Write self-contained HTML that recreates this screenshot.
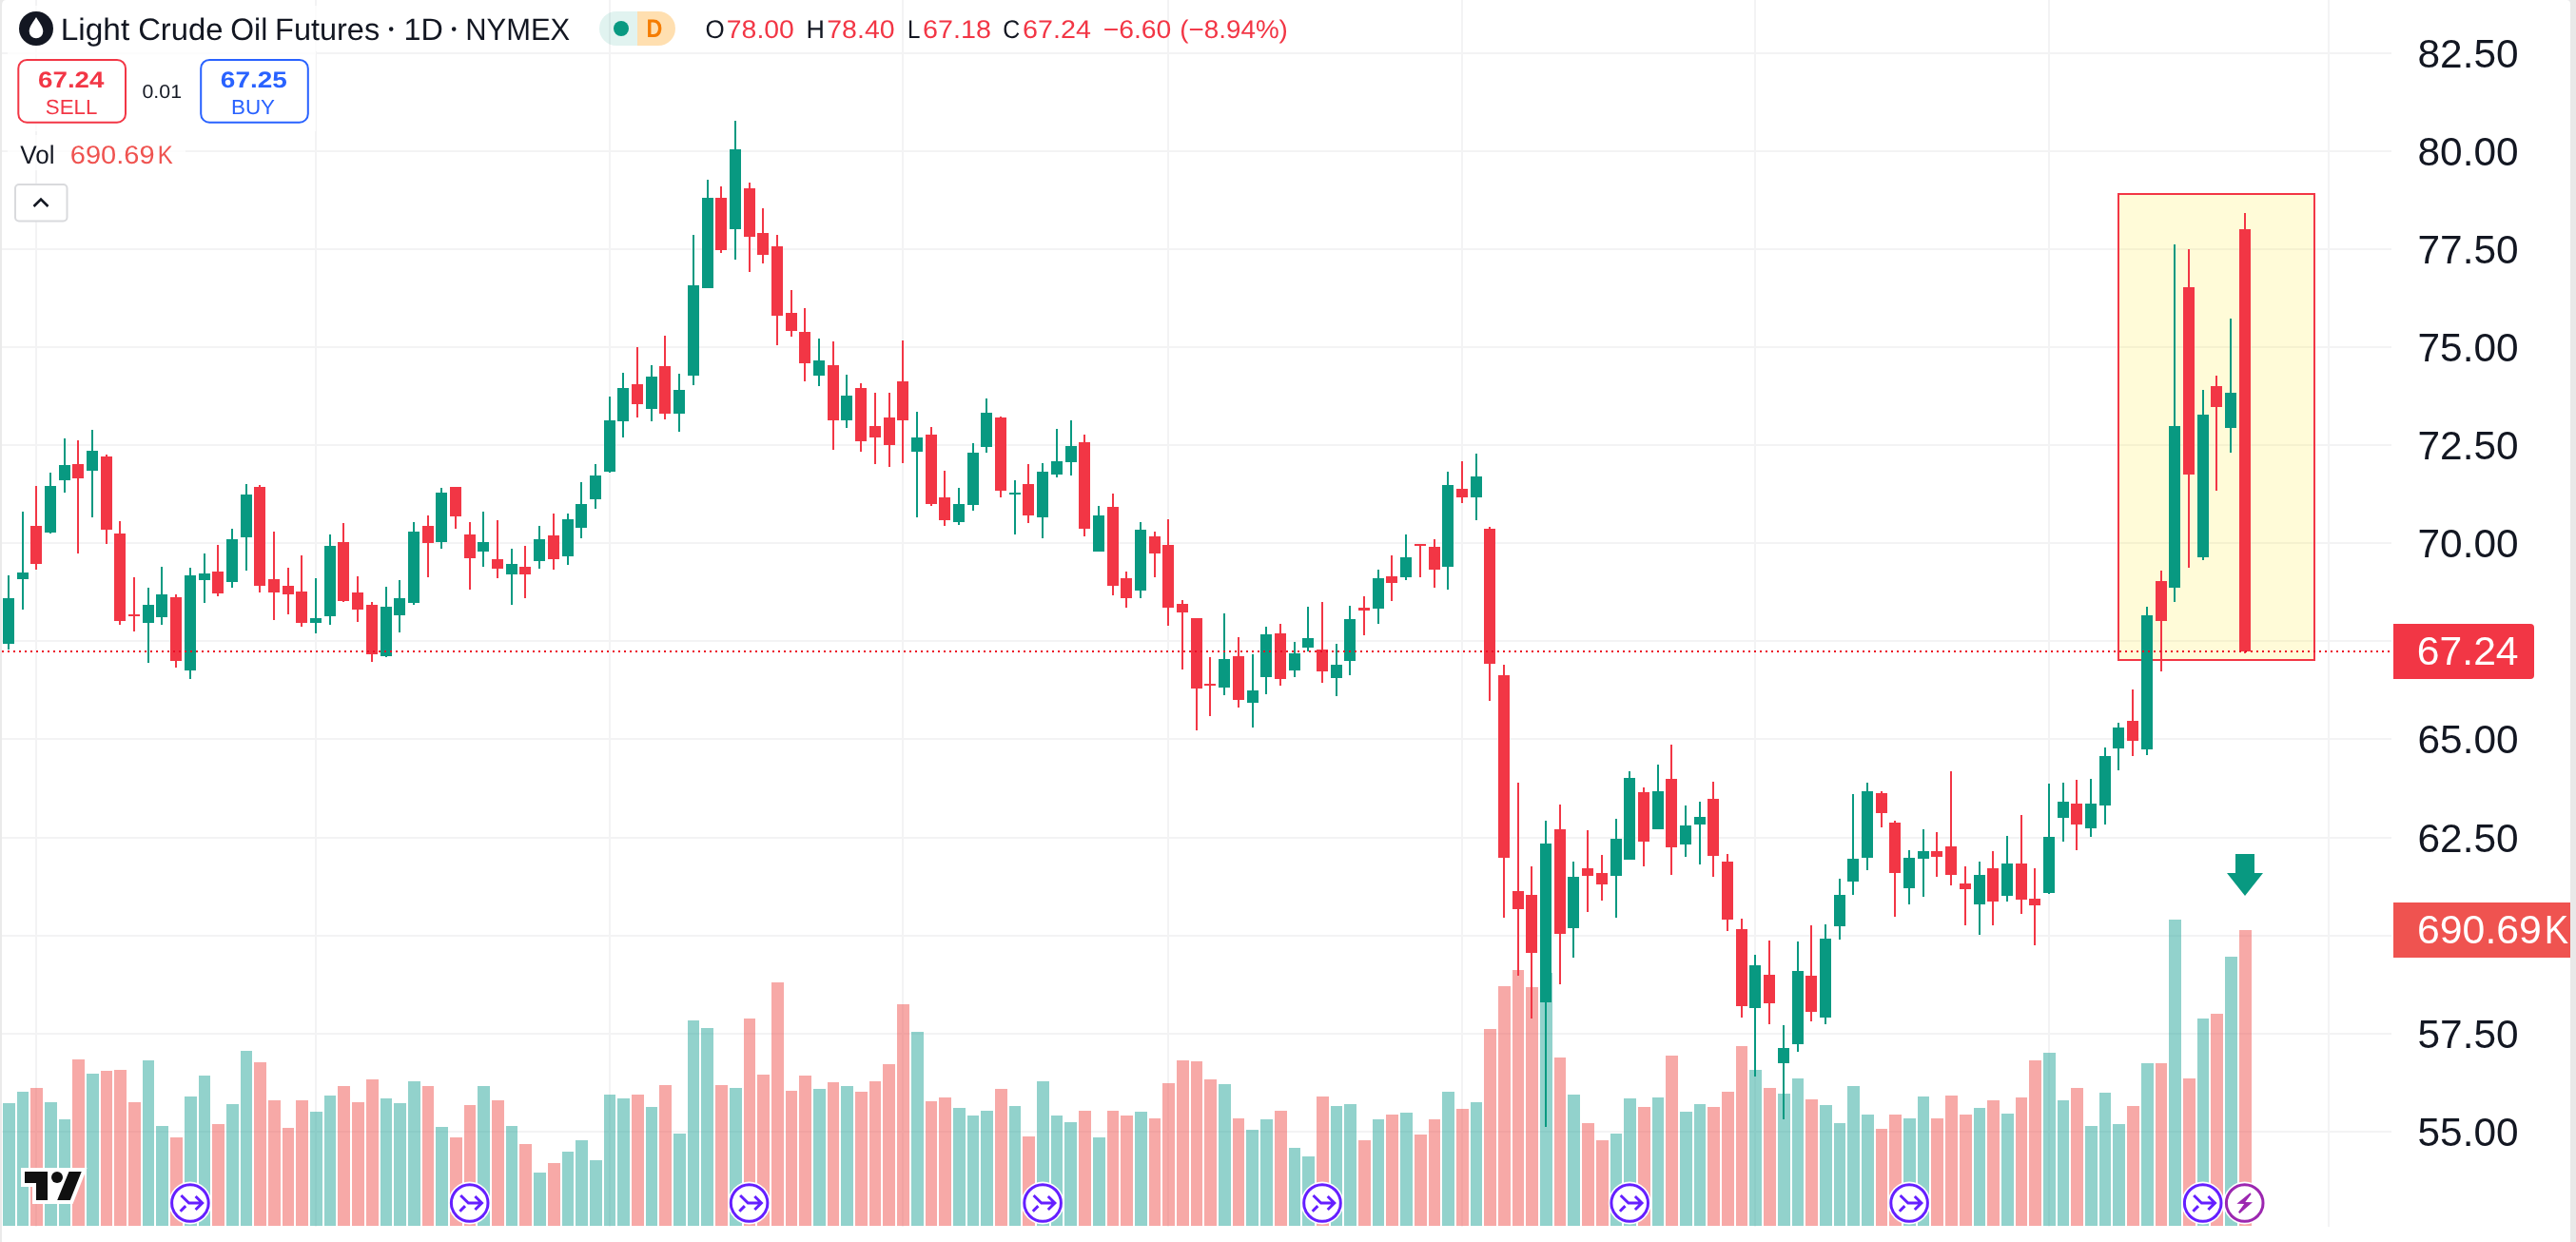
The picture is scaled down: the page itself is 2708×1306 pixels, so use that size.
<!DOCTYPE html><html><head><meta charset="utf-8"><title>CL1! chart</title><style>html,body{margin:0;padding:0;background:#fff;}body{width:2708px;height:1306px;overflow:hidden;font-family:"Liberation Sans",sans-serif;}svg{display:block;will-change:transform;opacity:0.999}</style></head><body><svg width="2708" height="1306" viewBox="0 0 2708 1306" shape-rendering="crispEdges"><rect x="0" y="0" width="2708" height="1306" fill="#FFFFFF"/><g fill="#F3F3F4"><rect x="2" y="55" width="2512" height="2"/><rect x="2" y="158" width="2512" height="2"/><rect x="2" y="261" width="2512" height="2"/><rect x="2" y="364" width="2512" height="2"/><rect x="2" y="467" width="2512" height="2"/><rect x="2" y="570" width="2512" height="2"/><rect x="2" y="673" width="2512" height="2"/><rect x="2" y="776" width="2512" height="2"/><rect x="2" y="880" width="2512" height="2"/><rect x="2" y="983" width="2512" height="2"/><rect x="2" y="1086" width="2512" height="2"/><rect x="2" y="1189" width="2512" height="2"/><rect x="37" y="0" width="2" height="1290"/><rect x="331" y="0" width="2" height="1290"/><rect x="640" y="0" width="2" height="1290"/><rect x="948" y="0" width="2" height="1290"/><rect x="1227" y="0" width="2" height="1290"/><rect x="1536" y="0" width="2" height="1290"/><rect x="1844" y="0" width="2" height="1290"/><rect x="2153" y="0" width="2" height="1290"/><rect x="2447" y="0" width="2" height="1290"/></g><g fill="rgba(38,166,154,0.5)"><rect x="3" y="1160" width="13" height="129"/><rect x="18" y="1148" width="12" height="141"/><rect x="47" y="1159" width="13" height="130"/><rect x="62" y="1177" width="12" height="112"/><rect x="91" y="1129" width="13" height="160"/><rect x="150" y="1115" width="12" height="174"/><rect x="164" y="1184" width="13" height="105"/><rect x="194" y="1153" width="13" height="136"/><rect x="209" y="1131" width="12" height="158"/><rect x="238" y="1161" width="13" height="128"/><rect x="253" y="1105" width="12" height="184"/><rect x="326" y="1169" width="13" height="120"/><rect x="341" y="1152" width="12" height="137"/><rect x="400" y="1155" width="12" height="134"/><rect x="414" y="1160" width="13" height="129"/><rect x="429" y="1137" width="13" height="152"/><rect x="458" y="1185" width="13" height="104"/><rect x="502" y="1142" width="13" height="147"/><rect x="532" y="1184" width="12" height="105"/><rect x="561" y="1233" width="13" height="56"/><rect x="591" y="1211" width="12" height="78"/><rect x="605" y="1199" width="13" height="90"/><rect x="620" y="1220" width="13" height="69"/><rect x="635" y="1151" width="12" height="138"/><rect x="649" y="1155" width="13" height="134"/><rect x="679" y="1164" width="12" height="125"/><rect x="708" y="1192" width="13" height="97"/><rect x="723" y="1073" width="12" height="216"/><rect x="737" y="1081" width="13" height="208"/><rect x="767" y="1144" width="13" height="145"/><rect x="855" y="1145" width="13" height="144"/><rect x="884" y="1142" width="13" height="147"/><rect x="958" y="1085" width="13" height="204"/><rect x="1002" y="1165" width="13" height="124"/><rect x="1017" y="1173" width="12" height="116"/><rect x="1031" y="1168" width="13" height="121"/><rect x="1061" y="1163" width="12" height="126"/><rect x="1090" y="1137" width="13" height="152"/><rect x="1105" y="1173" width="12" height="116"/><rect x="1119" y="1180" width="13" height="109"/><rect x="1149" y="1196" width="13" height="93"/><rect x="1193" y="1169" width="13" height="120"/><rect x="1281" y="1140" width="13" height="149"/><rect x="1310" y="1188" width="13" height="101"/><rect x="1325" y="1177" width="13" height="112"/><rect x="1355" y="1207" width="12" height="82"/><rect x="1369" y="1216" width="13" height="73"/><rect x="1399" y="1163" width="12" height="126"/><rect x="1413" y="1161" width="13" height="128"/><rect x="1443" y="1177" width="12" height="112"/><rect x="1472" y="1170" width="13" height="119"/><rect x="1516" y="1148" width="13" height="141"/><rect x="1546" y="1159" width="12" height="130"/><rect x="1619" y="1023" width="13" height="266"/><rect x="1648" y="1151" width="13" height="138"/><rect x="1693" y="1192" width="12" height="97"/><rect x="1707" y="1155" width="13" height="134"/><rect x="1737" y="1154" width="12" height="135"/><rect x="1766" y="1169" width="13" height="120"/><rect x="1781" y="1161" width="12" height="128"/><rect x="1839" y="1125" width="13" height="164"/><rect x="1869" y="1150" width="13" height="139"/><rect x="1884" y="1134" width="12" height="155"/><rect x="1913" y="1162" width="13" height="127"/><rect x="1928" y="1181" width="12" height="108"/><rect x="1942" y="1142" width="13" height="147"/><rect x="1957" y="1172" width="13" height="117"/><rect x="2001" y="1176" width="13" height="113"/><rect x="2016" y="1153" width="12" height="136"/><rect x="2075" y="1165" width="12" height="124"/><rect x="2104" y="1171" width="13" height="118"/><rect x="2148" y="1107" width="13" height="182"/><rect x="2163" y="1157" width="12" height="132"/><rect x="2192" y="1184" width="13" height="105"/><rect x="2207" y="1149" width="12" height="140"/><rect x="2221" y="1182" width="13" height="107"/><rect x="2251" y="1118" width="13" height="171"/><rect x="2280" y="967" width="13" height="322"/><rect x="2310" y="1071" width="12" height="218"/><rect x="2339" y="1006" width="13" height="283"/></g><g fill="rgba(239,83,80,0.5)"><rect x="32" y="1144" width="13" height="145"/><rect x="76" y="1114" width="13" height="175"/><rect x="106" y="1126" width="12" height="163"/><rect x="120" y="1125" width="13" height="164"/><rect x="135" y="1159" width="13" height="130"/><rect x="179" y="1196" width="13" height="93"/><rect x="223" y="1182" width="13" height="107"/><rect x="267" y="1117" width="13" height="172"/><rect x="282" y="1157" width="13" height="132"/><rect x="297" y="1186" width="12" height="103"/><rect x="311" y="1157" width="13" height="132"/><rect x="355" y="1142" width="13" height="147"/><rect x="370" y="1159" width="13" height="130"/><rect x="385" y="1135" width="13" height="154"/><rect x="444" y="1142" width="12" height="147"/><rect x="473" y="1196" width="13" height="93"/><rect x="488" y="1162" width="12" height="127"/><rect x="517" y="1157" width="13" height="132"/><rect x="546" y="1203" width="13" height="86"/><rect x="576" y="1223" width="13" height="66"/><rect x="664" y="1151" width="13" height="138"/><rect x="693" y="1141" width="13" height="148"/><rect x="752" y="1141" width="13" height="148"/><rect x="782" y="1071" width="12" height="218"/><rect x="796" y="1130" width="13" height="159"/><rect x="811" y="1033" width="13" height="256"/><rect x="826" y="1147" width="12" height="142"/><rect x="840" y="1131" width="13" height="158"/><rect x="870" y="1138" width="12" height="151"/><rect x="899" y="1148" width="13" height="141"/><rect x="914" y="1137" width="12" height="152"/><rect x="928" y="1119" width="13" height="170"/><rect x="943" y="1056" width="13" height="233"/><rect x="973" y="1158" width="12" height="131"/><rect x="987" y="1154" width="13" height="135"/><rect x="1046" y="1145" width="13" height="144"/><rect x="1075" y="1195" width="13" height="94"/><rect x="1134" y="1168" width="13" height="121"/><rect x="1164" y="1168" width="12" height="121"/><rect x="1178" y="1173" width="13" height="116"/><rect x="1208" y="1176" width="12" height="113"/><rect x="1222" y="1139" width="13" height="150"/><rect x="1237" y="1115" width="13" height="174"/><rect x="1252" y="1116" width="12" height="173"/><rect x="1266" y="1135" width="13" height="154"/><rect x="1296" y="1176" width="12" height="113"/><rect x="1340" y="1168" width="13" height="121"/><rect x="1384" y="1153" width="13" height="136"/><rect x="1428" y="1199" width="13" height="90"/><rect x="1457" y="1172" width="13" height="117"/><rect x="1487" y="1193" width="13" height="96"/><rect x="1502" y="1177" width="12" height="112"/><rect x="1531" y="1166" width="13" height="123"/><rect x="1560" y="1082" width="13" height="207"/><rect x="1575" y="1037" width="13" height="252"/><rect x="1590" y="1020" width="12" height="269"/><rect x="1604" y="1038" width="13" height="251"/><rect x="1634" y="1112" width="12" height="177"/><rect x="1663" y="1181" width="13" height="108"/><rect x="1678" y="1199" width="13" height="90"/><rect x="1722" y="1164" width="13" height="125"/><rect x="1751" y="1110" width="13" height="179"/><rect x="1795" y="1164" width="13" height="125"/><rect x="1810" y="1148" width="13" height="141"/><rect x="1825" y="1100" width="12" height="189"/><rect x="1854" y="1144" width="13" height="145"/><rect x="1898" y="1156" width="13" height="133"/><rect x="1972" y="1187" width="12" height="102"/><rect x="1986" y="1172" width="13" height="117"/><rect x="2030" y="1176" width="13" height="113"/><rect x="2045" y="1152" width="13" height="137"/><rect x="2060" y="1172" width="13" height="117"/><rect x="2089" y="1157" width="13" height="132"/><rect x="2119" y="1154" width="12" height="135"/><rect x="2133" y="1115" width="13" height="174"/><rect x="2177" y="1144" width="13" height="145"/><rect x="2236" y="1163" width="13" height="126"/><rect x="2266" y="1118" width="12" height="171"/><rect x="2295" y="1134" width="13" height="155"/><rect x="2324" y="1066" width="13" height="223"/><rect x="2354" y="978" width="13" height="311"/></g><rect x="2227" y="204" width="206" height="490" fill="rgba(255,235,59,0.2)" stroke="#F23645" stroke-width="2"/><g fill="#089981"><rect x="8" y="605" width="2" height="78"/><rect x="3" y="629" width="12" height="48"/><rect x="23" y="538" width="2" height="103"/><rect x="18" y="602" width="12" height="7"/><rect x="52" y="497" width="2" height="64"/><rect x="47" y="511" width="12" height="49"/><rect x="67" y="461" width="2" height="57"/><rect x="62" y="489" width="12" height="16"/><rect x="96" y="452" width="2" height="92"/><rect x="91" y="474" width="12" height="21"/><rect x="155" y="618" width="2" height="79"/><rect x="150" y="636" width="12" height="19"/><rect x="169" y="596" width="2" height="61"/><rect x="164" y="625" width="12" height="24"/><rect x="199" y="597" width="2" height="117"/><rect x="194" y="605" width="12" height="100"/><rect x="214" y="582" width="2" height="52"/><rect x="209" y="603" width="12" height="7"/><rect x="243" y="556" width="2" height="62"/><rect x="238" y="567" width="12" height="45"/><rect x="258" y="509" width="2" height="91"/><rect x="253" y="520" width="12" height="45"/><rect x="331" y="608" width="2" height="58"/><rect x="326" y="650" width="12" height="5"/><rect x="346" y="562" width="2" height="95"/><rect x="341" y="574" width="12" height="74"/><rect x="405" y="617" width="2" height="74"/><rect x="400" y="638" width="12" height="52"/><rect x="419" y="610" width="2" height="55"/><rect x="414" y="629" width="12" height="18"/><rect x="434" y="549" width="2" height="87"/><rect x="429" y="559" width="12" height="75"/><rect x="463" y="513" width="2" height="64"/><rect x="458" y="518" width="12" height="52"/><rect x="507" y="538" width="2" height="58"/><rect x="502" y="570" width="12" height="10"/><rect x="537" y="577" width="2" height="59"/><rect x="532" y="593" width="12" height="11"/><rect x="566" y="553" width="2" height="45"/><rect x="561" y="567" width="12" height="23"/><rect x="596" y="540" width="2" height="54"/><rect x="591" y="546" width="12" height="39"/><rect x="610" y="507" width="2" height="59"/><rect x="605" y="530" width="12" height="25"/><rect x="625" y="488" width="2" height="47"/><rect x="620" y="500" width="12" height="25"/><rect x="640" y="417" width="2" height="80"/><rect x="635" y="442" width="12" height="54"/><rect x="654" y="392" width="2" height="68"/><rect x="649" y="408" width="12" height="35"/><rect x="684" y="384" width="2" height="59"/><rect x="679" y="396" width="12" height="34"/><rect x="713" y="393" width="2" height="61"/><rect x="708" y="410" width="12" height="25"/><rect x="728" y="247" width="2" height="158"/><rect x="723" y="300" width="12" height="95"/><rect x="743" y="189" width="2" height="114"/><rect x="738" y="208" width="12" height="95"/><rect x="772" y="127" width="2" height="146"/><rect x="767" y="157" width="12" height="84"/><rect x="860" y="356" width="2" height="50"/><rect x="855" y="379" width="12" height="16"/><rect x="889" y="394" width="2" height="56"/><rect x="884" y="416" width="12" height="26"/><rect x="963" y="433" width="2" height="111"/><rect x="958" y="460" width="12" height="15"/><rect x="1007" y="513" width="2" height="39"/><rect x="1002" y="530" width="12" height="19"/><rect x="1022" y="466" width="2" height="71"/><rect x="1017" y="476" width="12" height="55"/><rect x="1036" y="419" width="2" height="57"/><rect x="1031" y="434" width="12" height="36"/><rect x="1066" y="505" width="2" height="57"/><rect x="1061" y="518" width="12" height="2"/><rect x="1095" y="487" width="2" height="79"/><rect x="1090" y="496" width="12" height="48"/><rect x="1110" y="451" width="2" height="51"/><rect x="1105" y="485" width="12" height="14"/><rect x="1125" y="442" width="2" height="58"/><rect x="1120" y="469" width="12" height="17"/><rect x="1154" y="532" width="2" height="48"/><rect x="1149" y="542" width="12" height="38"/><rect x="1198" y="549" width="2" height="80"/><rect x="1193" y="557" width="12" height="64"/><rect x="1286" y="645" width="2" height="86"/><rect x="1281" y="693" width="12" height="30"/><rect x="1316" y="688" width="2" height="77"/><rect x="1311" y="726" width="12" height="13"/><rect x="1330" y="659" width="2" height="71"/><rect x="1325" y="667" width="12" height="45"/><rect x="1360" y="675" width="2" height="37"/><rect x="1355" y="687" width="12" height="18"/><rect x="1374" y="638" width="2" height="47"/><rect x="1369" y="671" width="12" height="10"/><rect x="1404" y="677" width="2" height="55"/><rect x="1399" y="699" width="12" height="14"/><rect x="1418" y="637" width="2" height="73"/><rect x="1413" y="651" width="12" height="44"/><rect x="1448" y="599" width="2" height="57"/><rect x="1443" y="608" width="12" height="32"/><rect x="1477" y="562" width="2" height="48"/><rect x="1472" y="586" width="12" height="21"/><rect x="1521" y="496" width="2" height="124"/><rect x="1516" y="510" width="12" height="86"/><rect x="1551" y="477" width="2" height="70"/><rect x="1546" y="501" width="12" height="22"/><rect x="1624" y="863" width="2" height="322"/><rect x="1619" y="887" width="12" height="167"/><rect x="1653" y="906" width="2" height="101"/><rect x="1648" y="922" width="12" height="54"/><rect x="1698" y="861" width="2" height="104"/><rect x="1693" y="882" width="12" height="39"/><rect x="1712" y="811" width="2" height="93"/><rect x="1707" y="818" width="12" height="86"/><rect x="1742" y="804" width="2" height="68"/><rect x="1737" y="832" width="12" height="40"/><rect x="1771" y="847" width="2" height="54"/><rect x="1766" y="868" width="12" height="20"/><rect x="1786" y="843" width="2" height="66"/><rect x="1781" y="859" width="12" height="8"/><rect x="1844" y="1004" width="2" height="128"/><rect x="1839" y="1015" width="12" height="45"/><rect x="1874" y="1078" width="2" height="99"/><rect x="1869" y="1102" width="12" height="16"/><rect x="1889" y="990" width="2" height="116"/><rect x="1884" y="1021" width="12" height="77"/><rect x="1918" y="972" width="2" height="105"/><rect x="1913" y="987" width="12" height="83"/><rect x="1933" y="924" width="2" height="64"/><rect x="1928" y="941" width="12" height="33"/><rect x="1947" y="835" width="2" height="106"/><rect x="1942" y="903" width="12" height="24"/><rect x="1962" y="823" width="2" height="92"/><rect x="1957" y="832" width="12" height="70"/><rect x="2006" y="894" width="2" height="57"/><rect x="2001" y="902" width="12" height="32"/><rect x="2021" y="872" width="2" height="71"/><rect x="2016" y="895" width="12" height="8"/><rect x="2080" y="906" width="2" height="77"/><rect x="2075" y="920" width="12" height="31"/><rect x="2109" y="879" width="2" height="69"/><rect x="2104" y="908" width="12" height="34"/><rect x="2153" y="824" width="2" height="116"/><rect x="2148" y="880" width="12" height="59"/><rect x="2168" y="823" width="2" height="62"/><rect x="2163" y="843" width="12" height="17"/><rect x="2197" y="819" width="2" height="61"/><rect x="2192" y="845" width="12" height="26"/><rect x="2212" y="786" width="2" height="81"/><rect x="2207" y="795" width="12" height="52"/><rect x="2226" y="760" width="2" height="50"/><rect x="2221" y="765" width="12" height="22"/><rect x="2256" y="638" width="2" height="156"/><rect x="2251" y="647" width="12" height="141"/><rect x="2285" y="257" width="2" height="376"/><rect x="2280" y="448" width="12" height="170"/><rect x="2315" y="410" width="2" height="179"/><rect x="2310" y="436" width="12" height="150"/><rect x="2344" y="335" width="2" height="141"/><rect x="2339" y="413" width="12" height="37"/></g><g fill="#F23645"><rect x="37" y="511" width="2" height="88"/><rect x="32" y="553" width="12" height="40"/><rect x="81" y="463" width="2" height="119"/><rect x="76" y="488" width="12" height="15"/><rect x="111" y="478" width="2" height="94"/><rect x="106" y="480" width="12" height="77"/><rect x="125" y="548" width="2" height="109"/><rect x="120" y="561" width="12" height="92"/><rect x="140" y="607" width="2" height="57"/><rect x="135" y="646" width="12" height="2"/><rect x="184" y="625" width="2" height="77"/><rect x="179" y="628" width="12" height="67"/><rect x="228" y="573" width="2" height="54"/><rect x="223" y="601" width="12" height="23"/><rect x="272" y="510" width="2" height="113"/><rect x="267" y="512" width="12" height="104"/><rect x="287" y="559" width="2" height="93"/><rect x="282" y="609" width="12" height="14"/><rect x="302" y="597" width="2" height="49"/><rect x="297" y="616" width="12" height="9"/><rect x="316" y="584" width="2" height="75"/><rect x="311" y="622" width="12" height="33"/><rect x="360" y="550" width="2" height="83"/><rect x="355" y="570" width="12" height="62"/><rect x="375" y="606" width="2" height="48"/><rect x="370" y="623" width="12" height="18"/><rect x="390" y="633" width="2" height="63"/><rect x="385" y="636" width="12" height="52"/><rect x="449" y="542" width="2" height="65"/><rect x="444" y="553" width="12" height="18"/><rect x="478" y="512" width="2" height="44"/><rect x="473" y="512" width="12" height="31"/><rect x="493" y="549" width="2" height="71"/><rect x="488" y="562" width="12" height="25"/><rect x="522" y="547" width="2" height="61"/><rect x="517" y="588" width="12" height="10"/><rect x="551" y="574" width="2" height="55"/><rect x="546" y="596" width="12" height="8"/><rect x="581" y="540" width="2" height="59"/><rect x="576" y="563" width="12" height="25"/><rect x="669" y="365" width="2" height="74"/><rect x="664" y="404" width="12" height="21"/><rect x="698" y="353" width="2" height="88"/><rect x="693" y="385" width="12" height="50"/><rect x="757" y="196" width="2" height="70"/><rect x="752" y="208" width="12" height="55"/><rect x="787" y="192" width="2" height="94"/><rect x="782" y="198" width="12" height="51"/><rect x="801" y="219" width="2" height="58"/><rect x="796" y="245" width="12" height="23"/><rect x="816" y="247" width="2" height="116"/><rect x="811" y="259" width="12" height="73"/><rect x="831" y="305" width="2" height="49"/><rect x="826" y="329" width="12" height="19"/><rect x="845" y="324" width="2" height="77"/><rect x="840" y="349" width="12" height="33"/><rect x="875" y="359" width="2" height="114"/><rect x="870" y="384" width="12" height="58"/><rect x="904" y="403" width="2" height="72"/><rect x="899" y="408" width="12" height="56"/><rect x="919" y="413" width="2" height="75"/><rect x="914" y="448" width="12" height="12"/><rect x="934" y="413" width="2" height="78"/><rect x="929" y="439" width="12" height="29"/><rect x="948" y="358" width="2" height="129"/><rect x="943" y="401" width="12" height="41"/><rect x="978" y="449" width="2" height="83"/><rect x="973" y="457" width="12" height="73"/><rect x="992" y="495" width="2" height="58"/><rect x="987" y="523" width="12" height="24"/><rect x="1051" y="438" width="2" height="85"/><rect x="1046" y="439" width="12" height="77"/><rect x="1080" y="488" width="2" height="62"/><rect x="1075" y="509" width="12" height="33"/><rect x="1139" y="457" width="2" height="107"/><rect x="1134" y="465" width="12" height="91"/><rect x="1169" y="519" width="2" height="107"/><rect x="1164" y="533" width="12" height="83"/><rect x="1183" y="601" width="2" height="38"/><rect x="1178" y="608" width="12" height="21"/><rect x="1213" y="559" width="2" height="48"/><rect x="1208" y="564" width="12" height="18"/><rect x="1227" y="546" width="2" height="112"/><rect x="1222" y="573" width="12" height="66"/><rect x="1242" y="631" width="2" height="73"/><rect x="1237" y="635" width="12" height="9"/><rect x="1257" y="650" width="2" height="118"/><rect x="1252" y="650" width="12" height="74"/><rect x="1271" y="691" width="2" height="62"/><rect x="1266" y="719" width="12" height="2"/><rect x="1301" y="670" width="2" height="74"/><rect x="1296" y="690" width="12" height="46"/><rect x="1345" y="656" width="2" height="65"/><rect x="1340" y="666" width="12" height="48"/><rect x="1389" y="633" width="2" height="85"/><rect x="1384" y="683" width="12" height="23"/><rect x="1433" y="627" width="2" height="41"/><rect x="1428" y="639" width="12" height="3"/><rect x="1462" y="584" width="2" height="48"/><rect x="1457" y="606" width="12" height="7"/><rect x="1492" y="572" width="2" height="35"/><rect x="1487" y="572" width="12" height="2"/><rect x="1507" y="567" width="2" height="51"/><rect x="1502" y="575" width="12" height="24"/><rect x="1536" y="485" width="2" height="44"/><rect x="1531" y="514" width="12" height="9"/><rect x="1565" y="554" width="2" height="183"/><rect x="1560" y="556" width="12" height="142"/><rect x="1580" y="699" width="2" height="266"/><rect x="1575" y="710" width="12" height="192"/><rect x="1595" y="823" width="2" height="203"/><rect x="1590" y="937" width="12" height="19"/><rect x="1609" y="911" width="2" height="160"/><rect x="1604" y="941" width="12" height="61"/><rect x="1639" y="846" width="2" height="189"/><rect x="1634" y="872" width="12" height="110"/><rect x="1668" y="873" width="2" height="86"/><rect x="1663" y="913" width="12" height="8"/><rect x="1683" y="899" width="2" height="48"/><rect x="1678" y="918" width="12" height="12"/><rect x="1727" y="828" width="2" height="83"/><rect x="1722" y="833" width="12" height="52"/><rect x="1756" y="783" width="2" height="137"/><rect x="1751" y="819" width="12" height="72"/><rect x="1800" y="822" width="2" height="100"/><rect x="1795" y="840" width="12" height="60"/><rect x="1815" y="898" width="2" height="81"/><rect x="1810" y="906" width="12" height="61"/><rect x="1830" y="966" width="2" height="104"/><rect x="1825" y="977" width="12" height="81"/><rect x="1859" y="989" width="2" height="88"/><rect x="1854" y="1025" width="12" height="30"/><rect x="1903" y="973" width="2" height="101"/><rect x="1898" y="1026" width="12" height="38"/><rect x="1977" y="832" width="2" height="38"/><rect x="1972" y="834" width="12" height="21"/><rect x="1991" y="863" width="2" height="101"/><rect x="1986" y="865" width="12" height="53"/><rect x="2035" y="875" width="2" height="47"/><rect x="2030" y="895" width="12" height="6"/><rect x="2050" y="811" width="2" height="120"/><rect x="2045" y="890" width="12" height="30"/><rect x="2065" y="911" width="2" height="62"/><rect x="2060" y="929" width="12" height="6"/><rect x="2094" y="895" width="2" height="78"/><rect x="2089" y="913" width="12" height="35"/><rect x="2124" y="857" width="2" height="104"/><rect x="2119" y="908" width="12" height="38"/><rect x="2138" y="913" width="2" height="81"/><rect x="2133" y="945" width="12" height="7"/><rect x="2182" y="820" width="2" height="74"/><rect x="2177" y="845" width="12" height="22"/><rect x="2241" y="725" width="2" height="70"/><rect x="2236" y="758" width="12" height="21"/><rect x="2271" y="600" width="2" height="106"/><rect x="2266" y="611" width="12" height="42"/><rect x="2300" y="262" width="2" height="335"/><rect x="2295" y="302" width="12" height="197"/><rect x="2329" y="395" width="2" height="121"/><rect x="2324" y="406" width="12" height="22"/><rect x="2359" y="224" width="2" height="463"/><rect x="2354" y="241" width="12" height="444"/></g><line x1="2" y1="685" x2="2514" y2="685" stroke="#EC0A24" stroke-width="2" stroke-dasharray="2 4"/><path d="M2350 898H2370V918H2379L2360 942L2341 918H2350Z" fill="#089981" shape-rendering="geometricPrecision"/><path d="M0 0H6Q2 0 2 6V1306H0Z" fill="#EAEAEA" shape-rendering="geometricPrecision"/><path d="M2702 1306V4Q2702 0 2698 0H2708V1306Z" fill="#E9E9E9" shape-rendering="geometricPrecision"/><g font-family="Liberation Sans, sans-serif" font-size="42" fill="#131722"><text transform="translate(2541.50,70.70) scale(1.0104,1)">82.50</text><text transform="translate(2541.50,173.70) scale(1.0104,1)">80.00</text><text transform="translate(2541.50,276.70) scale(1.0104,1)">77.50</text><text transform="translate(2541.50,379.70) scale(1.0104,1)">75.00</text><text transform="translate(2541.50,482.70) scale(1.0104,1)">72.50</text><text transform="translate(2541.50,585.70) scale(1.0104,1)">70.00</text><text transform="translate(2541.50,791.70) scale(1.0104,1)">65.00</text><text transform="translate(2541.50,895.70) scale(1.0104,1)">62.50</text><text transform="translate(2541.50,1101.70) scale(1.0104,1)">57.50</text><text transform="translate(2541.50,1204.70) scale(1.0104,1)">55.00</text></g><path d="M2516 656H2660Q2664 656 2664 660V710Q2664 714 2660 714H2516Z" fill="#F23645" shape-rendering="geometricPrecision"/><g font-family="Liberation Sans, sans-serif"><text transform="translate(2540.87,699.00) scale(1.0152,1)" font-size="42" fill="#FFFFFF">67.24</text><rect x="2516" y="949" width="186" height="58" fill="#EF5350"/><text transform="translate(2541.06,992.10) scale(1.0183,1)" font-size="42" fill="#FFFFFF">690.69</text><text transform="translate(2674.86,992.10) scale(0.9066,1)" font-size="42" fill="#FFFFFF">K</text></g><g transform="translate(199.9,1265)" shape-rendering="geometricPrecision"><circle r="22.4" fill="#FFFFFF"/><circle r="19.3" fill="#FFFFFF" stroke="#651FFF" stroke-width="3"/><path d="M-9.5 -8L-1.3 0H12.5M5.7 -7L12.8 0L5.7 7M-10.3 8.7L-4.7 3.1" fill="none" stroke="#651FFF" stroke-width="3"/></g><g transform="translate(493.7,1265)" shape-rendering="geometricPrecision"><circle r="22.4" fill="#FFFFFF"/><circle r="19.3" fill="#FFFFFF" stroke="#651FFF" stroke-width="3"/><path d="M-9.5 -8L-1.3 0H12.5M5.7 -7L12.8 0L5.7 7M-10.3 8.7L-4.7 3.1" fill="none" stroke="#651FFF" stroke-width="3"/></g><g transform="translate(787.6,1265)" shape-rendering="geometricPrecision"><circle r="22.4" fill="#FFFFFF"/><circle r="19.3" fill="#FFFFFF" stroke="#651FFF" stroke-width="3"/><path d="M-9.5 -8L-1.3 0H12.5M5.7 -7L12.8 0L5.7 7M-10.3 8.7L-4.7 3.1" fill="none" stroke="#651FFF" stroke-width="3"/></g><g transform="translate(1096.1,1265)" shape-rendering="geometricPrecision"><circle r="22.4" fill="#FFFFFF"/><circle r="19.3" fill="#FFFFFF" stroke="#651FFF" stroke-width="3"/><path d="M-9.5 -8L-1.3 0H12.5M5.7 -7L12.8 0L5.7 7M-10.3 8.7L-4.7 3.1" fill="none" stroke="#651FFF" stroke-width="3"/></g><g transform="translate(1390.0,1265)" shape-rendering="geometricPrecision"><circle r="22.4" fill="#FFFFFF"/><circle r="19.3" fill="#FFFFFF" stroke="#651FFF" stroke-width="3"/><path d="M-9.5 -8L-1.3 0H12.5M5.7 -7L12.8 0L5.7 7M-10.3 8.7L-4.7 3.1" fill="none" stroke="#651FFF" stroke-width="3"/></g><g transform="translate(1713.2,1265)" shape-rendering="geometricPrecision"><circle r="22.4" fill="#FFFFFF"/><circle r="19.3" fill="#FFFFFF" stroke="#651FFF" stroke-width="3"/><path d="M-9.5 -8L-1.3 0H12.5M5.7 -7L12.8 0L5.7 7M-10.3 8.7L-4.7 3.1" fill="none" stroke="#651FFF" stroke-width="3"/></g><g transform="translate(2007.1,1265)" shape-rendering="geometricPrecision"><circle r="22.4" fill="#FFFFFF"/><circle r="19.3" fill="#FFFFFF" stroke="#651FFF" stroke-width="3"/><path d="M-9.5 -8L-1.3 0H12.5M5.7 -7L12.8 0L5.7 7M-10.3 8.7L-4.7 3.1" fill="none" stroke="#651FFF" stroke-width="3"/></g><g transform="translate(2315.7,1265)" shape-rendering="geometricPrecision"><circle r="22.4" fill="#FFFFFF"/><circle r="19.3" fill="#FFFFFF" stroke="#651FFF" stroke-width="3"/><path d="M-9.5 -8L-1.3 0H12.5M5.7 -7L12.8 0L5.7 7M-10.3 8.7L-4.7 3.1" fill="none" stroke="#651FFF" stroke-width="3"/></g><g transform="translate(2359.7,1265)" shape-rendering="geometricPrecision"><circle r="22.4" fill="#FFFFFF"/><circle r="19.3" fill="#FFFFFF" stroke="#9C27B0" stroke-width="3"/><path d="M5.75 -10.7L6.9 -9.3L0.6 -1.1L8.3 -0.85L-5.2 11L-6.65 9.6L-0.6 1.1L-8.3 0.85Z" fill="#9C27B0"/></g><g shape-rendering="geometricPrecision"><path id="tv" d="M26 1232H50V1262H38V1244H26Z M72.5 1232H85.7L73.8 1262H60.2Z" fill="#FFFFFF" stroke="#FFFFFF" stroke-width="8" stroke-linejoin="miter"/><circle cx="60" cy="1238" r="10" fill="#FFFFFF"/><path d="M46 1228H76L62 1266H46Z" fill="#FFFFFF"/><path d="M26 1232H50V1262H38V1244H26Z M72.5 1232H85.7L73.8 1262H60.2Z" fill="#101010"/><circle cx="60" cy="1238" r="6" fill="#101010"/></g><g shape-rendering="geometricPrecision" text-rendering="geometricPrecision"><g fill="#FFFFFF" fill-opacity="0.7"><rect x="8" y="6" width="600" height="48"/><rect x="8" y="54" width="324" height="84"/><rect x="8" y="142" width="187" height="37"/></g><circle cx="38" cy="30" r="18" fill="#131722"/><path d="M38 18C35.5 22.5 30.7 27.5 30.7 33a7.3 7.3 0 0 0 14.6 0C45.3 27.5 40.5 22.5 38 18Z" fill="#FFFFFF"/><g font-family="Liberation Sans, sans-serif"><text transform="translate(63.74,41.80) scale(1.0279,1)" font-size="32.5" fill="#131722">Light</text><text transform="translate(145.16,41.80) scale(1.0085,1)" font-size="32.5" fill="#131722">Crude</text><text transform="translate(242.18,41.80) scale(0.9835,1)" font-size="32.5" fill="#131722">Oil</text><text transform="translate(289.12,41.80) scale(0.9985,1)" font-size="32.5" fill="#131722">Futures</text><text transform="translate(424.58,41.80) scale(0.9937,1)" font-size="32.5" fill="#131722">1D</text><text transform="translate(489.25,41.80) scale(0.9509,1)" font-size="32.5" fill="#131722">NYMEX</text><circle cx="411.2" cy="30.6" r="2.3" fill="#131722"/><circle cx="477.2" cy="30.6" r="2.3" fill="#131722"/></g><path d="M648 12H670V48H648a18 18 0 0 1 0-36Z" fill="rgba(8,153,129,0.12)"/><path d="M670 12H692a18 18 0 0 1 0 36H670Z" fill="rgba(255,152,0,0.31)"/><circle cx="653" cy="30" r="8" fill="#089981"/><g font-family="Liberation Sans, sans-serif"><text transform="translate(679.62,39.40) scale(0.8725,1)" font-size="26.76" fill="#F57C00" font-weight="bold">D</text><text transform="translate(741.57,40.10) scale(0.9605,1)" font-size="27" fill="#131722">O</text><text transform="translate(763.78,40.10) scale(1.0521,1)" font-size="27" fill="#F23645">78.00</text><text transform="translate(847.58,40.10) scale(0.9965,1)" font-size="27" fill="#131722">H</text><text transform="translate(869.28,40.10) scale(1.0551,1)" font-size="27" fill="#F23645">78.40</text><text transform="translate(954.11,40.10) scale(0.8923,1)" font-size="27" fill="#131722">L</text><text transform="translate(970.06,40.10) scale(1.0635,1)" font-size="27" fill="#F23645">67.18</text><text transform="translate(1054.36,40.10) scale(0.9216,1)" font-size="27" fill="#131722">C</text><text transform="translate(1075.06,40.10) scale(1.0630,1)" font-size="27" fill="#F23645">67.24</text><text transform="translate(1159.69,40.10) scale(1.0478,1)" font-size="27" fill="#F23645">−6.60</text><text transform="translate(1240.26,40.10) scale(1.0300,1)" font-size="27" fill="#F23645">(−8.94%)</text></g><rect x="19.3" y="62.9" width="112.7" height="65.9" rx="9" fill="#FFFFFF" stroke="#F23645" stroke-width="2"/><rect x="211.2" y="62.9" width="112.6" height="65.9" rx="9" fill="#FFFFFF" stroke="#2962FF" stroke-width="2"/><g font-family="Liberation Sans, sans-serif"><text transform="translate(40.06,91.76) scale(1.1605,1)" font-size="23.89" fill="#F23645" font-weight="bold">67.24</text><text transform="translate(47.80,119.78) scale(1.0244,1)" font-size="21.77" fill="#F23645">SELL</text><text transform="translate(149.45,103.10) scale(1.0724,1)" font-size="19.93" fill="#131722">0.01</text><text transform="translate(231.85,91.76) scale(1.1712,1)" font-size="23.89" fill="#2962FF" font-weight="bold">67.25</text><text transform="translate(242.95,119.78) scale(1.0295,1)" font-size="21.79" fill="#2962FF">BUY</text><text transform="translate(21.37,171.90) scale(0.9670,1)" font-size="27" fill="#131722">Vol</text><text transform="translate(73.85,171.90) scale(1.0739,1)" font-size="27" fill="#EF5350">690.69</text><text transform="translate(165.63,171.90) scale(0.8863,1)" font-size="27" fill="#EF5350">K</text></g><rect x="16" y="194" width="54.5" height="38.5" rx="4" fill="#FFFFFF" stroke="#D9DADD" stroke-width="2"/><path d="M35.5 217L43 209.5L50.5 217" fill="none" stroke="#131722" stroke-width="2.6"/></g></svg></body></html>
